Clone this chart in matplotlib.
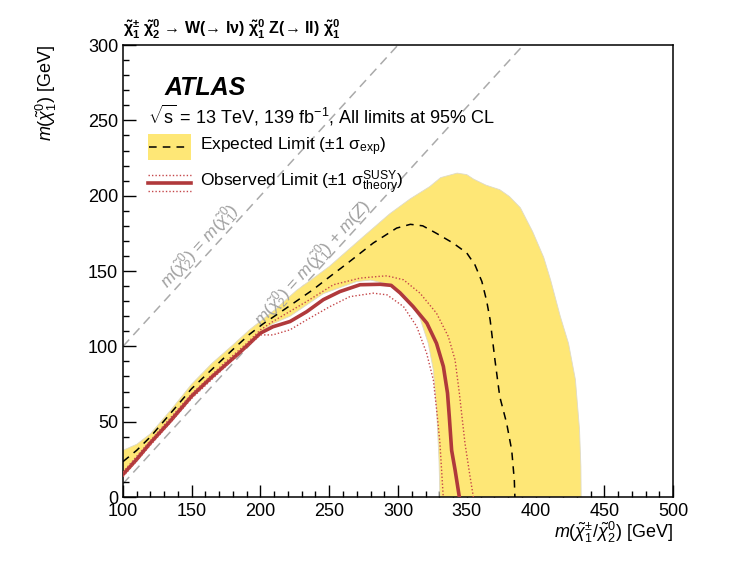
import numpy as np
import matplotlib
matplotlib.use("Agg")
import matplotlib.pyplot as plt
from matplotlib.patches import Rectangle
from matplotlib.lines import Line2D

plt.rcParams["font.family"] = ["Liberation Sans", "DejaVu Sans"]
plt.rcParams["mathtext.fontset"] = "custom"
plt.rcParams["mathtext.rm"] = "Liberation Sans"
plt.rcParams["mathtext.it"] = "Liberation Sans:italic"
plt.rcParams["mathtext.bf"] = "Liberation Sans:bold"

# expected limit band (+1 sigma edge, -1 sigma edge)
band_up_x = [100, 110, 120, 135, 150, 165, 180, 192, 210, 226, 250, 275, 294, 309, 323, 331, 343,
             350, 355, 364, 374, 381, 389, 398, 406, 411, 418, 424, 429, 432, 433, 433.2]
band_up_y = [31, 35, 42, 58, 75, 89, 101, 111, 124, 137, 153, 173, 188, 198, 206, 212, 215,
             214, 211, 207, 204, 199.5, 192, 176, 159, 144, 120, 102, 78, 45, 20, 0]
band_lo_x = [100, 120, 150, 175, 185, 200, 209, 221.5, 245.7, 270, 280, 294, 306, 316, 322,
             325.7, 328.1, 329.8, 330.5]
band_lo_y = [16, 37, 68, 89, 96.5, 109.5, 115, 120, 135, 143, 144, 141, 133, 118.7, 102,
             84.4, 57.8, 24.6, 0]

# expected limit
exp_x = [100, 110, 120, 135, 150, 165, 180, 192, 202, 215, 238, 250, 263, 282, 299, 309, 318,
         328, 340, 350, 356, 361, 364.5, 367, 370.5, 374, 379, 382.7, 384.6, 385]
exp_y = [23.5, 31, 40, 56, 72, 85, 98, 108, 115, 123, 137.5, 146, 155, 168.6, 178.5, 181, 180,
         175, 168.6, 162, 154, 143, 130, 117.6, 91, 66.6, 49, 31, 11, 0]

# observed limit and theory variations
obs_x = [100, 110, 120, 135, 150, 165, 175, 185, 200, 209, 221.5, 233.6, 245.7, 257.8, 272.4,
         287, 295, 301.5, 311, 321, 328, 333, 336, 337.3, 339, 341.5, 344.6]
obs_y = [15, 25, 36, 51, 67, 80, 88, 96, 108.8, 113, 116.5, 123, 131, 136.4, 140.9,
         141.2, 140.5, 135.5, 126.4, 115.4, 102, 86.6, 69, 53.4, 31, 18, 0]
obs_up_x = [100, 120, 150, 175, 190, 200, 209, 233.6, 253, 272.4, 287, 292, 304, 316, 328,
            336.6, 341.5, 344.6, 348.7, 352.4, 354.8]
obs_up_y = [16.5, 37.5, 68.5, 90, 102, 111, 116.5, 129.8, 140.9, 145.3, 146.5, 146.8, 144.2,
            135.3, 122, 106.5, 91, 69, 35.7, 13.5, 0]
obs_dn_x = [100, 120, 150, 175, 190, 200, 209, 221.5, 233.6, 250.5, 265, 282, 292, 304, 313.6,
            320.8, 325.7, 328.1, 330.5, 332.9]
obs_dn_y = [13.5, 34.5, 65.5, 87, 99.5, 107.6, 107.6, 111, 117.6, 126.4, 133, 135.3, 134.2,
            126.4, 113.2, 95.5, 77.7, 57.8, 35.7, 0]

# kinematic limits
m_z = 91.2
diag_x = [100, 500]

fig = plt.figure(figsize=(7.44, 5.63), dpi=100)
ax = fig.add_axes([0.1653, 0.1172, 0.7393, 0.8028])

ax.plot(diag_x, diag_x, color="#aaaaaa", lw=1.1, dashes=(6, 4), zorder=1)
ax.plot(diag_x, [v - m_z for v in diag_x], color="#aaaaaa", lw=1.1, dashes=(6, 4), zorder=1)

band_x = band_up_x + band_lo_x[::-1]
band_y = band_up_y + band_lo_y[::-1]
ax.fill(band_x, band_y, facecolor="#fee776", edgecolor="#dedac8", lw=0.6, zorder=2)

ax.plot(exp_x, exp_y, color="black", lw=1.1, dashes=(5, 4), zorder=4)
ax.plot(obs_x, obs_y, color="#b0393b", lw=2.6, zorder=5, solid_joinstyle="round")
ax.plot(obs_up_x, obs_up_y, color="#c5474a", lw=1.0, ls=(0, (1, 1.5)), zorder=5)
ax.plot(obs_dn_x, obs_dn_y, color="#c5474a", lw=1.0, ls=(0, (1, 1.5)), zorder=5)

ax.set_xlim(100, 500)
ax.set_ylim(0, 300)
ax.set_xticks(np.arange(100, 501, 50))
ax.set_yticks(np.arange(0, 301, 50))
ax.set_xticks(np.arange(100, 501, 10), minor=True)
ax.set_yticks(np.arange(0, 301, 10), minor=True)
ax.tick_params(which="both", direction="in", labelsize=13, width=1.0)
ax.tick_params(which="major", length=9)
ax.tick_params(which="minor", length=4.5)
ax.tick_params(axis="x", pad=4)
for sp in ax.spines.values():
    sp.set_linewidth(1.1)

ax.set_xlabel(r"$m(\tilde{\chi}^{\pm}_{1}/\tilde{\chi}^{0}_{2})$ [GeV]", fontsize=13, loc="right", labelpad=0)
ax.set_ylabel(r"$m(\tilde{\chi}^{0}_{1})$ [GeV]", fontsize=13, loc="top", labelpad=21)

# process label above the frame
ax.text(0.0, 1.01, r"$\mathbf{\tilde{\chi}^{\pm}_{1}}$ $\mathbf{\tilde{\chi}^{0}_{2}}$ → W(→ lν) "
        r"$\mathbf{\tilde{\chi}^{0}_{1}}$ Z(→ ll) $\mathbf{\tilde{\chi}^{0}_{1}}$",
        transform=ax.transAxes, fontsize=11.5, fontweight="bold", ha="left", va="bottom")

ax.text(0.075, 0.905, "ATLAS", transform=ax.transAxes, fontsize=18, fontweight="bold",
        fontstyle="italic", ha="left", va="center")
ax.text(0.045, 0.845, r"$\sqrt{\mathrm{s}}$ = 13 TeV, 139 fb$^{-1}$, All limits at 95% CL",
        transform=ax.transAxes, fontsize=13, ha="left", va="center")

# legend drawn by hand
ax.add_patch(Rectangle((0.045, 0.745), 0.078, 0.058, transform=ax.transAxes,
                       facecolor="#fee776", edgecolor="none", zorder=6))
ax.add_line(Line2D([0.047, 0.121], [0.774, 0.774], transform=ax.transAxes, color="black",
                   lw=1.1, dashes=(5, 4), zorder=7))
ax.text(0.14, 0.774, r"Expected Limit ($\pm$1 $\mathrm{\sigma}_{\mathrm{exp}}$)", transform=ax.transAxes,
        fontsize=12.5, ha="left", va="center")

ax.add_line(Line2D([0.045, 0.123], [0.694, 0.694], transform=ax.transAxes, color="#b0393b",
                   lw=2.6, zorder=7))
ax.add_line(Line2D([0.045, 0.123], [0.712, 0.712], transform=ax.transAxes, color="#c5474a",
                   lw=1.0, ls=(0, (1, 1.5)), zorder=7))
ax.add_line(Line2D([0.045, 0.123], [0.676, 0.676], transform=ax.transAxes, color="#c5474a",
                   lw=1.0, ls=(0, (1, 1.5)), zorder=7))
ax.text(0.14, 0.694, r"Observed Limit ($\pm$1 $\mathrm{\sigma}^{\mathrm{SUSY}}_{\mathrm{theory}}$)",
        transform=ax.transAxes, fontsize=12.5, ha="left", va="center")

# kinematic line labels, rotated to follow the lines
ang = np.degrees(np.arctan((1.505 / 1.375)))
ax.text(156, 166, r"$m(\tilde{\chi}^{0}_{2})$ = $m(\tilde{\chi}^{0}_{1})$", color="#a0a0a0",
        fontsize=12.5, rotation=ang, rotation_mode="anchor", ha="center", va="center")
ax.text(238, 155, r"$m(\tilde{\chi}^{0}_{2})$ = $m(\tilde{\chi}^{0}_{1})$ + $m(Z)$", color="#a0a0a0",
        fontsize=12.5, rotation=ang, rotation_mode="anchor", ha="center", va="center")

fig.savefig("out.png", dpi=100)
